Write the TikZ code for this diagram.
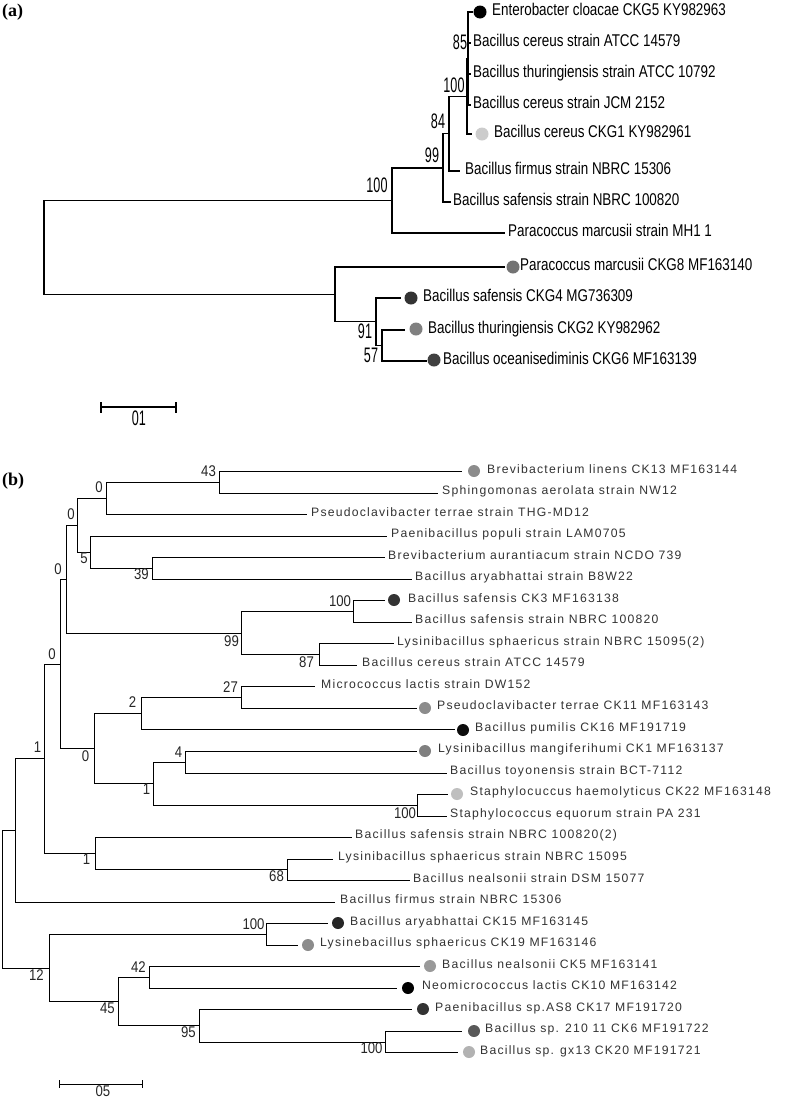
\documentclass[tikz,border=0pt]{standalone}
\usepackage{fontspec}
\usepackage{graphicx}
\setmainfont{Liberation Sans}
\newfontfamily\fa{Liberation Sans}
\newfontfamily\fb[LetterSpace=10]{Liberation Sans}
\newfontfamily\fser{Liberation Serif}
\newcommand\ta[1]{\scalebox{0.79}[1]{\fa\fontsize{17}{17}\selectfont #1}}
\newcommand\tb[1]{{\fb\fontsize{12.2}{12.2}\selectfont #1}}
\newcommand\na[1]{\scalebox{0.6}[1]{\fa\fontsize{21}{21}\selectfont #1}}
\newcommand\nb[1]{\scalebox{0.85}[1]{\fa\fontsize{15.5}{15.5}\selectfont #1}}
\tikzset{
  bra/.style={line width=1.4pt, black},
  brb/.style={line width=1pt, black},
  laba/.style={anchor=base west, inner sep=0pt, text=black},
  labb/.style={anchor=base west, inner sep=0pt, text=black!80},
  bsa/.style={inner sep=0pt, text=black},
  bsb/.style={inner sep=0pt, text=black!85},
  dota/.style={circle, inner sep=0pt, minimum size=13pt, draw=none},
  dotb/.style={circle, inner sep=0pt, minimum width=12pt, minimum height=11pt, draw=none},
  panel/.style={anchor=west, inner sep=0pt, font=\fser\bfseries\fontsize{18}{18}\selectfont},
}
\newcommand\leafa[5]{\coordinate (#1) at (#2,#3); \node[laba] (t#1) at (#4,#3+3) {\ta{#5}};}
\newcommand\leafb[5]{\coordinate (#1) at (#2,#3); \node[labb] (t#1) at (#4,#3+1.4) {\tb{#5}};}
\begin{document}
\begin{tikzpicture}[x=1pt,y=-1pt]
\useasboundingbox[fill=white] (0,0) rectangle (787,1098);

% ================= panel (a) =================
\node[panel] (pa) at (2,12.5) {(a)};
\coordinate (ra) at (44,247.4);
\coordinate (A) at (392,200.4);
\coordinate (A1) at (443,167.8);
\coordinate (A2) at (449,133.6);
\coordinate (A3) at (467,96.25);
\coordinate (A4) at (468,58.5);
\coordinate (B) at (335,294.4);
\coordinate (B1) at (376,321.75);
\coordinate (B2) at (382,345.5);

\leafa{eEnt}{473}{12}{492}{Enterobacter cloacae CKG5 KY982963}
\leafa{eATCC}{471}{43}{473}{Bacillus cereus strain ATCC 14579}
\leafa{eThur}{471}{74}{473}{Bacillus thuringiensis strain ATCC 10792}
\leafa{eJCM}{471}{105}{473}{Bacillus cereus strain JCM 2152}
\leafa{eCKGa}{472}{134}{494}{Bacillus cereus CKG1 KY982961}
\leafa{eFirm}{460}{171}{465}{Bacillus firmus strain NBRC 15306}
\leafa{eSaf}{451}{202}{453}{Bacillus safensis strain NBRC 100820}
\leafa{eMH}{505}{233}{508}{Paracoccus marcusii strain MH1 1}
\leafa{eCKGh}{505}{267}{520}{Paracoccus marcusii CKG8 MF163140}
\leafa{eCKGd}{401}{298}{423}{Bacillus safensis CKG4 MG736309}
\leafa{eCKGb}{405}{330}{428}{Bacillus thuringiensis CKG2 KY982962}
\leafa{eCKGf}{427}{361}{443}{Bacillus oceanisediminis CKG6 MF163139}

\draw[bra] (ra) |- (A); \draw[bra] (ra) |- (B);
\draw[bra] (A) |- (A1); \draw[bra] (A) |- (eMH);
\draw[bra] (A1) |- (A2); \draw[bra] (A1) |- (eSaf);
\draw[bra] (A2) |- (A3); \draw[bra] (A2) |- (eFirm);
\draw[bra] (A3) |- (A4); \draw[bra] (A3) |- (eCKGa);
\draw[bra] (A4) |- (eEnt); \draw[bra] (A4) |- (eATCC);
\draw[bra] (A4) |- (eThur); \draw[bra] (A4) |- (eJCM);
\draw[bra] (B) |- (eCKGh); \draw[bra] (B) |- (B1);
\draw[bra] (B1) |- (eCKGd); \draw[bra] (B1) |- (B2);
\draw[bra] (B2) |- (eCKGb); \draw[bra] (B2) |- (eCKGf);

\node[dota, fill=black] (dEnt) at (480,12) {};
\node[dota, fill=black!20] (dCKGa) at (482,134) {};
\node[dota, fill=black!55] (dCKGh) at (513,267) {};
\node[dota, fill=black!80] (dCKGd) at (411,298) {};
\node[dota, fill=black!50] (dCKGb) at (416,329) {};
\node[dota, fill=black!75] (dCKGf) at (434,360) {};

\node[bsa] (bA) at (377,185) {\na{100}};
\node[bsa] (bA1) at (432,155) {\na{99}};
\node[bsa] (bA2) at (438,121) {\na{84}};
\node[bsa] (bA3) at (454,85) {\na{100}};
\node[bsa] (bA4) at (460,42) {\na{85}};
\node[bsa] (bB1) at (365,331) {\na{91}};
\node[bsa] (bB2) at (371,355) {\na{57}};

\coordinate (sa1) at (101,407); \coordinate (sa2) at (176,407);
\coordinate (sa1t) at (101,402); \coordinate (sa1b) at (101,413);
\coordinate (sa2t) at (176,402); \coordinate (sa2b) at (176,413);
\draw[bra] (sa1) -- (sa2);
\draw[bra] (sa1t) -- (sa1b); \draw[bra] (sa2t) -- (sa2b);
\node[bsa] (sal) at (139,418) {\na{01}};

% ================= panel (b) =================
\node[panel] (pb) at (2,481) {(b)};
\coordinate (rb) at (2.7,899.2);
\coordinate (m5) at (15.7,830.5);
\coordinate (m2) at (44.3,758.8);
\coordinate (m1) at (60,664);
\coordinate (n1) at (66,579.3);
\coordinate (n3) at (77,525.5);
\coordinate (n2) at (106,498.6);
\coordinate (n43) at (219,482.5);
\coordinate (n4) at (90.7,552.4);
\coordinate (n5) at (152.3,568.6);
\coordinate (n6) at (241.3,633.1);
\coordinate (n7) at (353.3,611.6);
\coordinate (n8) at (319,654.6);
\coordinate (n12) at (94,748.7);
\coordinate (n11) at (141.7,713.8);
\coordinate (n10) at (241.3,697.6);
\coordinate (n13) at (153.7,783.7);
\coordinate (n14) at (185,762.2);
\coordinate (n15) at (417.7,805.2);
\coordinate (m3) at (95.7,853.7);
\coordinate (m4) at (287.3,869.8);
\coordinate (k1) at (49,968);
\coordinate (k2) at (266.7,934.4);
\coordinate (k3) at (118.3,1001.6);
\coordinate (k4) at (149,977.4);
\coordinate (k5) at (199.3,1025.8);
\coordinate (k6) at (385.7,1042);

\leafb{ea}{462}{471.7}{487}{Brevibacterium linens CK13 MF163144}
\leafb{eb}{438}{493.2}{442}{Sphingomonas aerolata strain NW12}
\leafb{ec}{307}{514.7}{311}{Pseudoclavibacter terrae strain THG-MD12}
\leafb{ed}{387}{536.3}{391}{Paenibacillus populi strain LAM0705}
\leafb{ee}{385}{557.8}{388}{Brevibacterium aurantiacum strain NCDO 739}
\leafb{ef}{412}{579.3}{415}{Bacillus aryabhattai strain B8W22}
\leafb{eg}{385}{600.8}{408}{Bacillus safensis CK3 MF163138}
\leafb{eh}{412}{622.3}{415}{Bacillus safensis strain NBRC 100820}
\leafb{ei}{394}{643.9}{397}{Lysinibacillus sphaericus strain NBRC 15095(2)}
\leafb{ej}{357}{665.4}{362}{Bacillus cereus strain ATCC 14579}
\leafb{ek}{315}{686.9}{321}{Micrococcus lactis strain DW152}
\leafb{el}{417}{708.4}{437}{Pseudoclavibacter terrae CK11 MF163143}
\leafb{em}{455}{729.9}{475}{Bacillus pumilis CK16 MF191719}
\leafb{en}{417}{751.5}{438}{Lysinibacillus mangiferihumi CK1 MF163137}
\leafb{eo}{447}{773.0}{450}{Bacillus toyonensis strain BCT-7112}
\leafb{ep}{448}{794.5}{470}{Staphylocuccus haemolyticus CK22 MF163148}
\leafb{eq}{447}{816.0}{450}{Staphylococcus equorum strain PA 231}
\leafb{er}{352}{837.5}{355}{Bacillus safensis strain NBRC 100820(2)}
\leafb{es}{333}{859.1}{338}{Lysinibacillus sphaericus strain NBRC 15095}
\leafb{et}{410}{880.6}{413}{Bacillus nealsonii strain DSM 15077}
\leafb{eu}{335}{902.1}{340}{Bacillus firmus strain NBRC 15306}
\leafb{ev}{328}{923.6}{350}{Bacillus aryabhattai CK15 MF163145}
\leafb{ew}{298}{945.1}{320}{Lysinebacillus sphaericus CK19 MF163146}
\leafb{ex}{420}{966.7}{442}{Bacillus nealsonii CK5 MF163141}
\leafb{ey}{397}{988.2}{422}{Neomicrococcus lactis CK10 MF163142}
\leafb{ez}{412}{1009.7}{435}{Paenibacillus sp.AS8 CK17 MF191720}
\leafb{eza}{462}{1031.2}{485}{Bacillus sp. 210 11 CK6 MF191722}
\leafb{ezb}{458}{1052.7}{480}{Bacillus sp. gx13 CK20 MF191721}

\draw[brb] (rb) |- (m5); \draw[brb] (rb) |- (k1);
\draw[brb] (m5) |- (m2); \draw[brb] (m5) |- (eu);
\draw[brb] (m2) |- (m1); \draw[brb] (m2) |- (m3);
\draw[brb] (m1) |- (n1); \draw[brb] (m1) |- (n12);
\draw[brb] (n1) |- (n3); \draw[brb] (n1) |- (n6);
\draw[brb] (n3) |- (n2); \draw[brb] (n3) |- (n4);
\draw[brb] (n2) |- (n43); \draw[brb] (n2) |- (ec);
\draw[brb] (n43) |- (ea); \draw[brb] (n43) |- (eb);
\draw[brb] (n4) |- (ed); \draw[brb] (n4) |- (n5);
\draw[brb] (n5) |- (ee); \draw[brb] (n5) |- (ef);
\draw[brb] (n6) |- (n7); \draw[brb] (n6) |- (n8);
\draw[brb] (n7) |- (eg); \draw[brb] (n7) |- (eh);
\draw[brb] (n8) |- (ei); \draw[brb] (n8) |- (ej);
\draw[brb] (n12) |- (n11); \draw[brb] (n12) |- (n13);
\draw[brb] (n11) |- (n10); \draw[brb] (n11) |- (em);
\draw[brb] (n10) |- (ek); \draw[brb] (n10) |- (el);
\draw[brb] (n13) |- (n14); \draw[brb] (n13) |- (n15);
\draw[brb] (n14) |- (en); \draw[brb] (n14) |- (eo);
\draw[brb] (n15) |- (ep); \draw[brb] (n15) |- (eq);
\draw[brb] (m3) |- (er); \draw[brb] (m3) |- (m4);
\draw[brb] (m4) |- (es); \draw[brb] (m4) |- (et);
\draw[brb] (k1) |- (k2); \draw[brb] (k1) |- (k3);
\draw[brb] (k2) |- (ev); \draw[brb] (k2) |- (ew);
\draw[brb] (k3) |- (k4); \draw[brb] (k3) |- (k5);
\draw[brb] (k4) |- (ex); \draw[brb] (k4) |- (ey);
\draw[brb] (k5) |- (ez); \draw[brb] (k5) |- (k6);
\draw[brb] (k6) |- (eza); \draw[brb] (k6) |- (ezb);

\node[dotb, fill=black!45] (da) at (474,471) {};
\node[dotb, fill=black!80] (dg) at (394,600) {};
\node[dotb, fill=black!45] (dl) at (425,708) {};
\node[dotb, fill=black!95] (dm) at (463,730) {};
\node[dotb, fill=black!50] (dn) at (425,751) {};
\node[dotb, fill=black!25] (dp) at (457,794) {};
\node[dotb, fill=black!85] (dv) at (338,923) {};
\node[dotb, fill=black!45] (dw) at (308,945) {};
\node[dotb, fill=black!40] (dx) at (430,966) {};
\node[dotb, fill=black] (dy) at (408,988) {};
\node[dotb, fill=black!80] (dz) at (423,1009) {};
\node[dotb, fill=black!65] (dza) at (474,1031) {};
\node[dotb, fill=black!30] (dzb) at (469,1052) {};

\node[bsb] (b43) at (208.5,471) {\nb{43}};
\node[bsb] (bn2) at (99,487.5) {\nb{0}};
\node[bsb] (bn3) at (71,514) {\nb{0}};
\node[bsb] (bn4) at (84,558) {\nb{5}};
\node[bsb] (bn5) at (141.5,574) {\nb{39}};
\node[bsb] (bn1) at (58,569) {\nb{0}};
\node[bsb] (bn6) at (231.5,641) {\nb{99}};
\node[bsb] (bn7) at (340,601) {\nb{100}};
\node[bsb] (bn8) at (306.5,662) {\nb{87}};
\node[bsb] (bm1) at (52,654) {\nb{0}};
\node[bsb] (bn10) at (230.5,687.5) {\nb{27}};
\node[bsb] (bn11) at (132.5,702.5) {\nb{2}};
\node[bsb] (bn12) at (85.5,756) {\nb{0}};
\node[bsb] (bn13) at (146.5,789) {\nb{1}};
\node[bsb] (bn14) at (178.5,752) {\nb{4}};
\node[bsb] (bn15) at (405,813) {\nb{100}};
\node[bsb] (bm2) at (37.5,747.5) {\nb{1}};
\node[bsb] (bm3) at (86.5,859) {\nb{1}};
\node[bsb] (bm4) at (276.5,876) {\nb{68}};
\node[bsb] (bk1) at (36.5,975) {\nb{12}};
\node[bsb] (bk2) at (253.5,924) {\nb{100}};
\node[bsb] (bk3) at (107.5,1008) {\nb{45}};
\node[bsb] (bk4) at (138.5,967.5) {\nb{42}};
\node[bsb] (bk5) at (188.5,1032) {\nb{95}};
\node[bsb] (bk6) at (371.5,1048) {\nb{100}};

\coordinate (sb1) at (59.3,1084); \coordinate (sb2) at (142.7,1084);
\coordinate (sb1t) at (59.3,1080); \coordinate (sb1b) at (59.3,1088);
\coordinate (sb2t) at (142.7,1080); \coordinate (sb2b) at (142.7,1088);
\draw[brb] (sb1) -- (sb2);
\draw[brb] (sb1t) -- (sb1b); \draw[brb] (sb2t) -- (sb2b);
\node[bsb] (sbl) at (103,1091) {\nb{05}};
\end{tikzpicture}
\end{document}
